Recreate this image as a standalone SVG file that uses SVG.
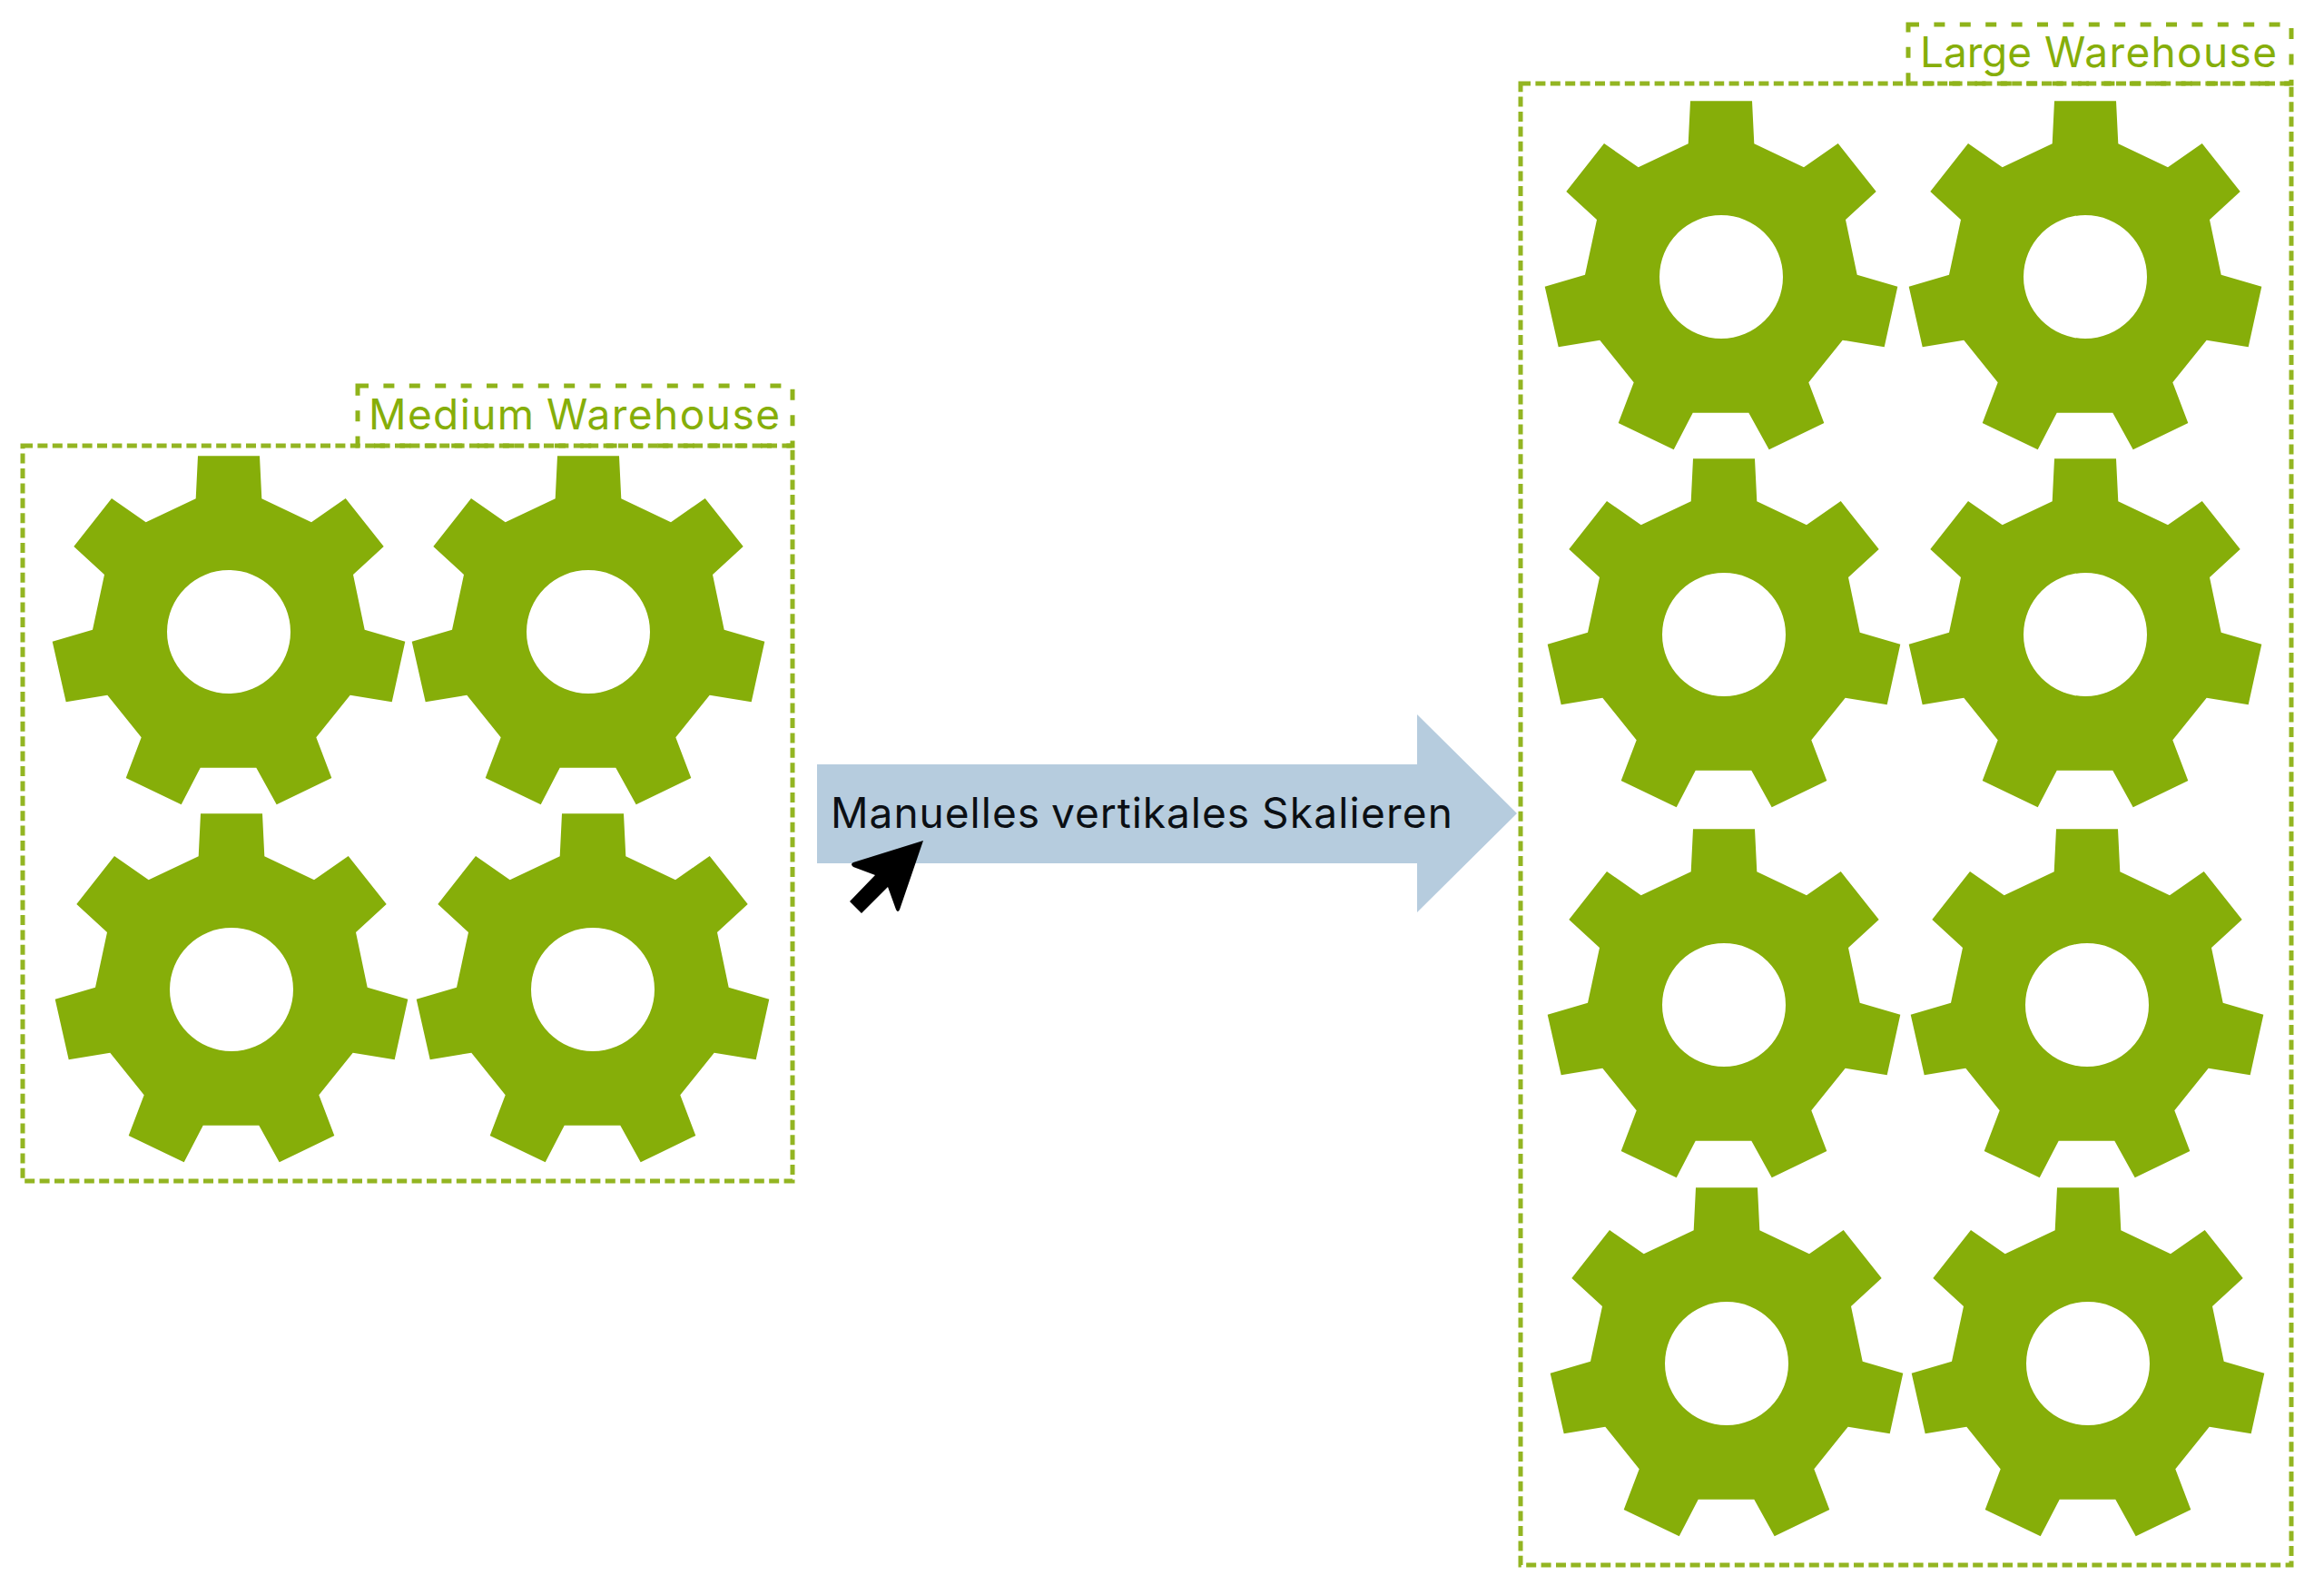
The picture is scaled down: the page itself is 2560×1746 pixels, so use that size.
<svg xmlns="http://www.w3.org/2000/svg" width="2560" height="1746" viewBox="0 0 2560 1746">
<style>
.frame{fill:none;stroke:#93b522;stroke-width:5;stroke-dasharray:11 5.4}
.tab{fill:none;stroke:#8fb31a;stroke-width:5;stroke-dasharray:12 16.4}
.gear{fill:#86ae09;fill-rule:evenodd}
.lbl{font-family:Inter,"Liberation Sans",sans-serif;font-size:46px;fill:#86ae09}
</style>
<defs>
<path id="g" class="gear" d="M-34-193.7L34-193.7L36.3-146.7L91-120.7L128.7-147L170.7-94L137-63L149.7-2.3L194.3 10.7L179.7 77.3L133.7 69.7L96.3 116.3L113.3 161L52.7 190.3L30.3 149.7L-31.3 149.7L-52.3 190.3L-113.3 161L-96.3 116.3L-133.7 69.7L-179.3 77.3L-194.3 10.7L-150-2.3L-137-63L-170.7-94L-129-147L-91.3-120.7L-36.3-146.7ZM68 0A68 68 0 1 0-68 0A68 68 0 1 0 68 0Z"/>
</defs>
<rect width="2560" height="1746" fill="#fff"/>
<g id="medium-warehouse">
<rect class="frame" x="25" y="491" width="848" height="810"/>
<rect class="tab" x="394" y="425" width="479" height="66"/>
<text class="lbl" y="473"><tspan x="406" textLength="182">Medium</tspan> <tspan x="602" textLength="257">Warehouse</tspan></text>
<use href="#g" x="252" y="696"/>
<use href="#g" x="648" y="696"/>
<use href="#g" x="255" y="1090"/>
<use href="#g" x="653" y="1090"/>
</g>
<g id="large-warehouse">
<rect class="frame" x="1675" y="92" width="849" height="1632"/>
<rect class="tab" x="2102" y="27" width="422" height="65"/>
<text class="lbl" y="74"><tspan x="2115" textLength="123">Large</tspan> <tspan x="2252" textLength="256">Warehouse</tspan></text>
<use href="#g" x="1896" y="305"/>
<use href="#g" x="2297" y="305"/>
<use href="#g" x="1899" y="699"/>
<use href="#g" x="2297" y="699"/>
<use href="#g" x="1899" y="1107"/>
<use href="#g" x="2299" y="1107"/>
<use href="#g" x="1902" y="1502"/>
<use href="#g" x="2300" y="1502"/>
</g>
<g id="connectors">
<path id="scale-arrow" d="M900 842H1561V787L1671 896L1561 1005V951H900Z" fill="#b6ccde"/>
<text y="912" font-family="Inter,'Liberation Sans',sans-serif" font-size="46" fill="#0b0f14"><tspan x="915" textLength="230">Manuelles</tspan> <tspan x="1158" textLength="218">vertikales</tspan> <tspan x="1390" textLength="210">Skalieren</tspan></text>
<path id="cursor" d="M1017 926L940 950Q936 952 940 955L964 964L936 993L949 1006L978 977L987 1002Q989 1006 991 1002Z" fill="#000"/>
</g>
</svg>
